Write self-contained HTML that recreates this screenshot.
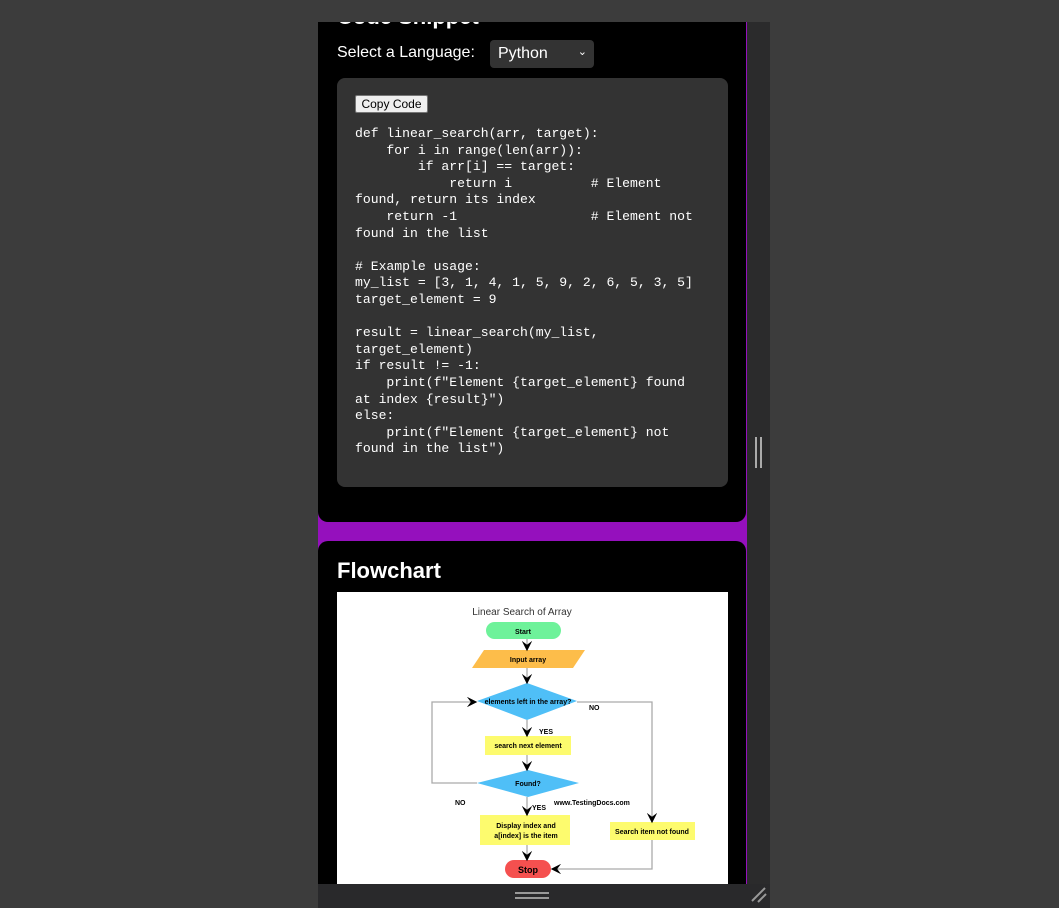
<!DOCTYPE html>
<html><head><meta charset="utf-8"><style>
*{margin:0;padding:0;box-sizing:border-box}
body{width:1059px;height:908px;background:#3c3c3c;position:relative;overflow:hidden;font-family:"Liberation Sans",sans-serif}
.abs{position:absolute}
</style></head><body>
<div class="abs" style="left:318px;top:22px;width:452px;height:862px;background:#2b2b2c"></div>
<div class="abs" style="left:318px;top:22px;width:429px;height:862px;background:#9510bd"></div>
<div class="abs" style="left:318px;top:0;width:428px;height:522px;background:#000;border-radius:0 0 10px 10px"></div>
<div class="abs" style="left:318px;top:541px;width:428px;height:343px;background:#000;border-radius:10px 10px 0 0"></div>
<div class="abs" style="left:318px;top:0;width:452px;height:22px;background:#3c3c3c"></div>
<div class="abs" style="left:337px;top:4px;color:#fff;font-weight:bold;font-size:22px;line-height:26px;clip-path:inset(18px 0 0 0)">Code Snippet</div>
<div class="abs" style="left:337px;top:44px;color:#fff;font-size:16px">Select a Language:</div>
<div class="abs" style="left:490px;top:40px;width:104px;height:28px;background:#333;border-radius:4px;color:#fff;font-size:16px;padding:5px 0 0 8px">Python<span style="position:absolute;right:7px;top:5px;font-size:11px">&#8964;</span></div>
<div class="abs" style="left:337px;top:78px;width:391px;height:409px;background:#333;border-radius:8px"></div>
<div class="abs" style="left:355px;top:95px;width:73px;height:18px;background:#efefef;border:1px solid #767676;border-radius:2px;font-size:12px;line-height:16px;text-align:center;color:#000">Copy Code</div>
<pre class="abs" style="left:355px;top:126px;color:#fff;font-family:'Liberation Mono',monospace;font-size:13.1px;line-height:16.6px">def linear_search(arr, target):
    for i in range(len(arr)):
        if arr[i] == target:
            return i          # Element
found, return its index
    return -1                 # Element not
found in the list

# Example usage:
my_list = [3, 1, 4, 1, 5, 9, 2, 6, 5, 3, 5]
target_element = 9

result = linear_search(my_list,
target_element)
if result != -1:
    print(f"Element {target_element} found
at index {result}")
else:
    print(f"Element {target_element} not
found in the list")</pre>
<div class="abs" style="left:337px;top:558px;color:#fff;font-weight:bold;font-size:22px">Flowchart</div>
<div class="abs" style="left:337px;top:592px;width:391px;height:292px;background:#fff"></div>
<svg class="abs" style="left:0;top:0" width="1059" height="908" font-family="Liberation Sans, sans-serif">
<defs><marker id="a" markerWidth="8" markerHeight="8" refX="7" refY="4" orient="auto"><path d="M0,0 L8,4 L0,8 L3,4z" fill="#000"/></marker></defs>
<text x="522" y="615" font-size="10" text-anchor="middle" fill="#333">Linear Search of Array</text>
<rect x="486" y="622" width="75" height="17" rx="8.5" fill="#6ef29a"/>
<text x="523" y="634" font-size="7" font-weight="bold" text-anchor="middle">Start</text>
<polygon points="484,650 585,650 573,668 472,668" fill="#fdbd4a"/>
<text x="528" y="662" font-size="7" font-weight="bold" text-anchor="middle">Input array</text>
<polygon points="527,683 577,701 527,720 477,701" fill="#4fbff7"/>
<text x="528" y="704" font-size="7" font-weight="bold" text-anchor="middle">elements left in the array?</text>
<rect x="485" y="736" width="86" height="19" fill="#fdfb6e"/>
<text x="528" y="748" font-size="7" font-weight="bold" text-anchor="middle">search next element</text>
<polygon points="528,770 579,783 528,797 477,783" fill="#4fbff7"/>
<text x="528" y="786" font-size="7" font-weight="bold" text-anchor="middle">Found?</text>
<rect x="480" y="815" width="90" height="30" fill="#fdfb6e"/>
<text x="526" y="828" font-size="7" font-weight="bold" text-anchor="middle">Display index and</text>
<text x="526" y="838" font-size="7" font-weight="bold" text-anchor="middle">a[index] is the item</text>
<rect x="610" y="822" width="85" height="18" fill="#fdfb6e"/>
<text x="652" y="834" font-size="7" font-weight="bold" text-anchor="middle">Search item not found</text>
<rect x="505" y="860" width="46" height="18" rx="9" fill="#f5504f"/>
<text x="528" y="873" font-size="9" font-weight="bold" text-anchor="middle">Stop</text>
<g stroke="#aaa" stroke-width="1.3" fill="none">
<path d="M527,639 V650" marker-end="url(#a)"/>
<path d="M527,668 V683" marker-end="url(#a)"/>
<path d="M527,720 V736" marker-end="url(#a)"/>
<path d="M527,755 V770" marker-end="url(#a)"/>
<path d="M527,797 V815" marker-end="url(#a)"/>
<path d="M527,845 V860" marker-end="url(#a)"/>
<path d="M577,702 H652 V822" marker-end="url(#a)"/>
<path d="M652,840 V869 H552" marker-end="url(#a)"/>
<path d="M477,783 H432 V702 H476" marker-end="url(#a)"/>
</g>
<g font-size="7" font-weight="bold">
<text x="589" y="710">NO</text><text x="539" y="734">YES</text>
<text x="455" y="805">NO</text><text x="532" y="810">YES</text>
<text x="554" y="805">www.TestingDocs.com</text>
</g>
<rect x="755" y="437" width="2" height="31" fill="#aaa"/><rect x="760" y="437" width="2" height="31" fill="#aaa"/>
<rect x="318" y="884" width="452" height="24" fill="#29292b"/>
<rect x="515" y="892" width="34" height="2" fill="#999"/><rect x="515" y="897" width="34" height="2" fill="#999"/>
<path d="M752,901 L765,888 M758,902 L766,894" stroke="#999" stroke-width="2"/>
</svg>
</body></html>
